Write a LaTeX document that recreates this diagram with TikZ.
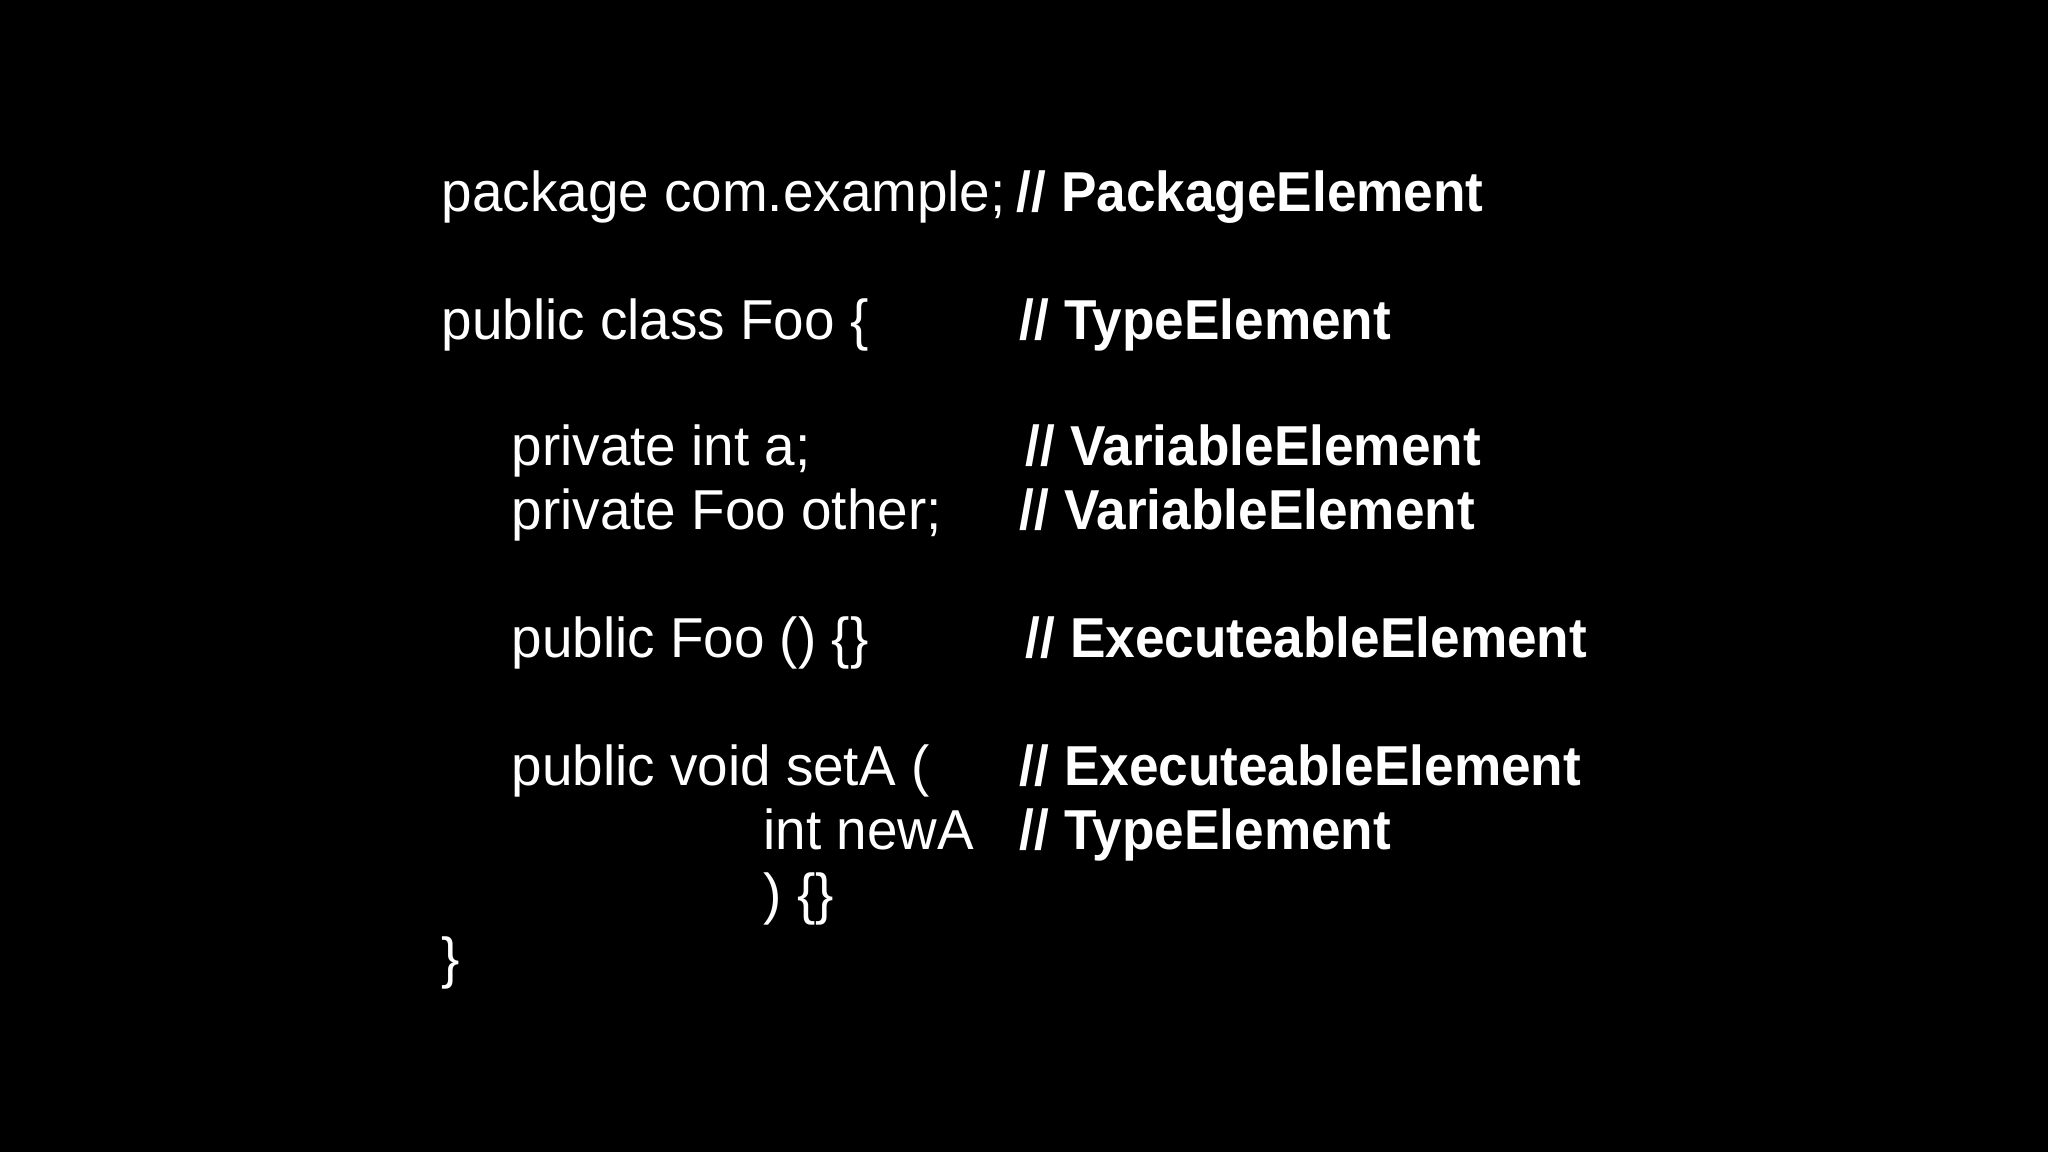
\documentclass[tikz,border=0pt]{standalone}
\usepackage{fontspec}
\setmainfont{Liberation Sans}
\newfontfamily\codefont[FakeStretch=0.975]{Liberation Sans}
\newfontfamily\cmtfont[FakeStretch=0.945]{Liberation Sans Bold}
\begin{document}
\begin{tikzpicture}[x=0.01cm,y=0.01cm,
  code/.style={anchor=base west,inner sep=0pt,text=white,font=\codefont\fontsize{16}{20}\selectfont},
  cmt/.style={anchor=base west,inner sep=0pt,text=white,font=\cmtfont\fontsize{16}{20}\selectfont}]
\fill[black] (0,0) rectangle (2048,1152);
\useasboundingbox (0,0) rectangle (2048,1152);
\node[code] (c1) at (441,940) {package com.example;};
\node[cmt] (m1) at (1016,940) {// PackageElement};
\node[code] (c2) at (441,812) {public class Foo \{};
\node[cmt] (m2) at (1019,812) {// TypeElement};
\node[code] (c3) at (511,686) {private int a;};
\node[cmt] (m3) at (1025,686) {// VariableElement};
\node[code] (c4) at (511,622) {private Foo other;};
\node[cmt] (m4) at (1019,622) {// VariableElement};
\node[code] (c5) at (511,494) {public Foo () \{\}};
\node[cmt] (m5) at (1025,494) {// ExecuteableElement};
\node[code] (c6) at (511,366) {public void setA (};
\node[cmt] (m6) at (1019,366) {// ExecuteableElement};
\node[code] (c7) at (763,302) {int newA};
\node[cmt] (m7) at (1019,302) {// TypeElement};
\node[code] (c8) at (763,238) {) \{\}};
\node[code] (c9) at (441,174) {\}};
\end{tikzpicture}
\end{document}
